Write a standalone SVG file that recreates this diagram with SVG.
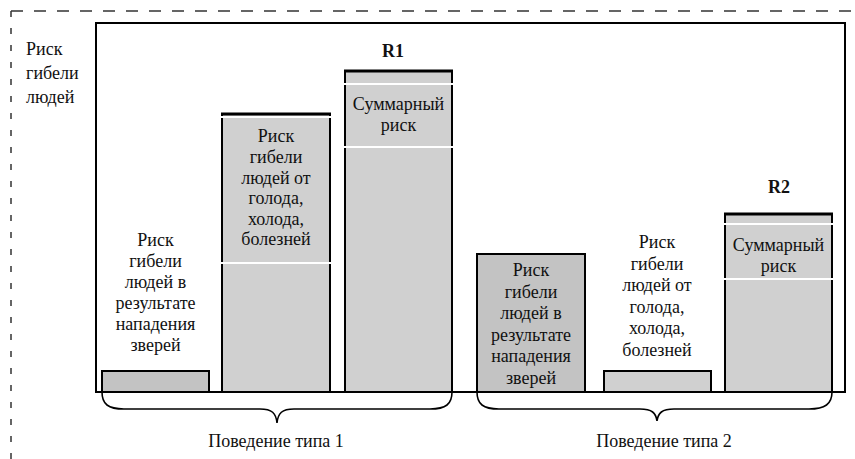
<svg xmlns="http://www.w3.org/2000/svg" width="855" height="459" viewBox="0 0 855 459">
  <style>
    text { font-family: "Liberation Serif", "Times New Roman", serif; font-size: 18px; fill: #111; }
    .c { text-anchor: middle; }
    .b { font-weight: bold; }
    .bar { stroke: #000; stroke-width: 2; }
    .light { fill: #d0d0d0; }
    .dark { fill: #c3c3c3; }
    .cap { stroke: #000; stroke-width: 3; }
    .sep { stroke: #fff; stroke-width: 2; }
    .dash { fill: none; stroke: #333; stroke-width: 1.5; }
    .brace { fill: none; stroke: #000; stroke-width: 1.6; }
  </style>

  <!-- outer dashed border -->
  <g id="border">
    <path class="dash" d="M11,11 H855" stroke-dasharray="12 11"/>
    <path class="dash" d="M11,11 V459" stroke-dasharray="6 11"/>
  </g>

  <!-- vertical axis caption -->
  <g id="axis-label">
    <text x="26" y="55">Риск</text>
    <text x="26" y="79">гибели</text>
    <text x="26" y="103">людей</text>
  </g>

  <!-- chart frame with baseline -->
  <g id="frame">
    <path d="M96,392 V23 H845 V392" fill="none" stroke="#000" stroke-width="2"/>
    <line x1="95" y1="392" x2="846" y2="392" stroke="#000" stroke-width="2"/>
  </g>

  <!-- behaviour type 1 -->
  <g id="t1-beasts">
    <rect class="bar dark" x="102" y="371" width="107" height="21"/>
    <text class="c" x="155.5" y="246">Риск</text>
    <text class="c" x="155.5" y="267">гибели</text>
    <text class="c" x="155.5" y="288">людей в</text>
    <text class="c" x="155.5" y="309">результате</text>
    <text class="c" x="155.5" y="330">нападения</text>
    <text class="c" x="155.5" y="351">зверей</text>
  </g>

  <g id="t1-hunger">
    <rect class="bar light" x="222" y="114" width="108" height="278"/>
    <line class="cap" x1="221" y1="114" x2="331" y2="114"/>
    <line class="sep" x1="221" y1="117" x2="331" y2="117"/>
    <line class="sep" x1="221" y1="263" x2="331" y2="263"/>
    <text class="c" x="276" y="142">Риск</text>
    <text class="c" x="276" y="163">гибели</text>
    <text class="c" x="276" y="184">людей от</text>
    <text class="c" x="276" y="204">голода,</text>
    <text class="c" x="276" y="225">холода,</text>
    <text class="c" x="276" y="245">болезней</text>
  </g>

  <g id="t1-total">
    <rect class="bar light" x="345" y="71" width="107" height="321"/>
    <line class="cap" x1="344" y1="71" x2="453" y2="71"/>
    <line class="sep" x1="344" y1="84" x2="453" y2="84"/>
    <line class="sep" x1="344" y1="147" x2="453" y2="147"/>
    <text class="c" x="398.5" y="110">Суммарный</text>
    <text class="c" x="398.5" y="131">риск</text>
    <text class="c b" x="393" y="57">R1</text>
  </g>

  <!-- behaviour type 2 -->
  <g id="t2-beasts">
    <rect class="bar dark" x="477" y="254" width="108" height="138"/>
    <text class="c" x="531" y="276">Риск</text>
    <text class="c" x="531" y="297.5">гибели</text>
    <text class="c" x="531" y="319">людей в</text>
    <text class="c" x="531" y="340.5">результате</text>
    <text class="c" x="531" y="362">нападения</text>
    <text class="c" x="531" y="383.5">зверей</text>
  </g>

  <g id="t2-hunger">
    <rect class="bar light" x="604" y="371" width="107" height="21"/>
    <text class="c" x="657" y="248">Риск</text>
    <text class="c" x="657" y="269.5">гибели</text>
    <text class="c" x="657" y="291">людей от</text>
    <text class="c" x="657" y="312.5">голода,</text>
    <text class="c" x="657" y="334">холода,</text>
    <text class="c" x="657" y="355.5">болезней</text>
  </g>

  <g id="t2-total">
    <rect class="bar light" x="725" y="214" width="107" height="178"/>
    <line class="cap" x1="724" y1="214" x2="833" y2="214"/>
    <line class="sep" x1="724" y1="224" x2="833" y2="224"/>
    <line class="sep" x1="724" y1="279" x2="833" y2="279"/>
    <text class="c" x="778.5" y="251">Суммарный</text>
    <text class="c" x="778.5" y="272">риск</text>
    <text class="c b" x="779" y="193">R2</text>
  </g>

  <!-- grouping braces under the bars -->
  <g id="connectors">
    <path class="brace" d="M102,392 C102,404 108,409 124,409 L260,409 C272,409 276,413 277,423 C278,413 282,409 294,409 L430,409 C446,409 452,404 452,392"/>
    <path class="brace" d="M477,392 C477,404 483,409 499,409 L640,409 C652,409 656,413 657,421 C658,413 662,409 674,409 L809,409 C825,409 832,404 832,392"/>
  </g>

  <g id="group-labels">
    <text class="c" x="276" y="447">Поведение типа 1</text>
    <text class="c" x="664" y="447">Поведение типа 2</text>
  </g>
</svg>
